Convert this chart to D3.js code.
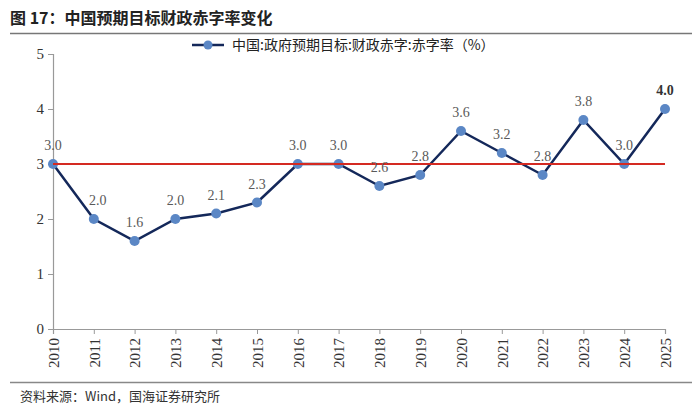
<!DOCTYPE html>
<html><head><meta charset="utf-8">
<script src="https://cdn.jsdelivr.net/npm/d3@7"></script>
<style>body{margin:0;background:#fff}svg{display:block}</style>
</head><body><svg id="c" width="700" height="416"></svg>
<script>
const years = ["2010","2011","2012","2013","2014","2015","2016","2017","2018","2019","2020","2021","2022","2023","2024","2025"];
const deficit = [3.0,2.0,1.6,2.0,2.1,2.3,3.0,3.0,2.6,2.8,3.6,3.2,2.8,3.8,3.0,4.0];
const yTicks = [0,1,2,3,4,5];
const refLine = 3;
const title = "图 17：中国预期目标财政赤字率变化";
const legendText = "中国:政府预期目标:财政赤字:赤字率（%）";
const source = "资料来源：Wind，国海证券研究所";

const svg = d3.select("#c");
const serif = "'Liberation Serif','Times New Roman',serif";
const x = d3.scalePoint().domain(years).range([53,665]);
const y = d3.scaleLinear().domain([0,5]).range([329,54]);

svg.append("text").attr("x",10).attr("y",24).attr("font-size",16).attr("font-weight","bold")
  .attr("font-family","'Noto Sans CJK SC',sans-serif").attr("fill","#222").text(title);
svg.append("line").attr("x1",10).attr("x2",692).attr("y1",33.5).attr("y2",33.5).attr("stroke","#777").attr("stroke-width",1.5);
svg.append("line").attr("x1",10).attr("x2",692).attr("y1",382.5).attr("y2",382.5).attr("stroke","#888").attr("stroke-width",1.5);
svg.append("text").attr("x",20).attr("y",401).attr("font-size",13)
  .attr("font-family","'Noto Sans CJK SC',sans-serif").attr("fill","#333").text(source);

const yAxis = svg.append("g").attr("transform","translate(53,0)")
  .call(d3.axisLeft(y).tickValues(yTicks).tickFormat(d3.format("d")).tickSize(5).tickPadding(4));
const xAxis = svg.append("g").attr("transform","translate(0,329)")
  .call(d3.axisBottom(x).tickSize(5).tickPadding(4));
[yAxis,xAxis].forEach(a=>{
  a.attr("font-family",serif).attr("font-size",15);
  a.select(".domain").attr("stroke","#999").attr("stroke-width",1.2);
  a.selectAll(".tick line").attr("stroke","#999");
  a.selectAll(".tick text").style("font-family",serif).style("font-size","15px").attr("fill","#333");
});
xAxis.selectAll(".tick text").attr("text-anchor","end").attr("x",0).attr("y",0)
  .attr("dy","0.35em").attr("transform","translate(0,9) rotate(-90)");

const line = d3.line().x((d,i)=>x(years[i])).y(d=>y(d));
svg.append("path").datum(deficit).attr("d",line).attr("fill","none")
  .attr("stroke","#14285a").attr("stroke-width",2.5);
svg.selectAll("circle.pt").data(deficit).join("circle").attr("class","pt")
  .attr("cx",(d,i)=>x(years[i])).attr("cy",d=>y(d)).attr("r",5).attr("fill","#5b87c5");
svg.append("line").attr("x1",x(years[0])).attr("x2",x(years[years.length-1]))
  .attr("y1",y(refLine)).attr("y2",y(refLine)).attr("stroke","#d42a22").attr("stroke-width",2);

svg.selectAll("text.lbl").data(deficit).join("text").attr("class","lbl")
  .attr("x",(d,i)=>x(years[i])+(i===1?4:0)).attr("y",d=>y(d)-14)
  .attr("text-anchor","middle").style("font-family",serif).style("font-size","14px")
  .attr("font-weight",(d,i)=>i===deficit.length-1?"bold":"normal")
  .attr("fill",(d,i)=>i===deficit.length-1?"#333":"#595959")
  .text(d=>d.toFixed(1));

const lg = svg.append("g");
lg.append("line").attr("x1",192).attr("x2",224).attr("y1",45).attr("y2",45).attr("stroke","#14285a").attr("stroke-width",2.5);
lg.append("circle").attr("cx",208).attr("cy",45).attr("r",4.5).attr("fill","#5b87c5");
lg.append("text").attr("x",232).attr("y",50).attr("font-size",14)
  .attr("font-family","'Noto Sans CJK SC',serif").attr("fill","#222").text(legendText);
</script></body></html>
